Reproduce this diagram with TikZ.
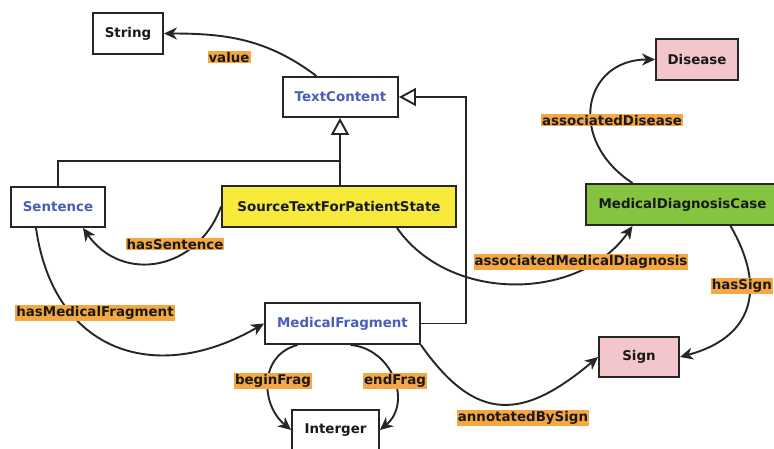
\documentclass[tikz,border=0pt]{standalone}
\usepackage{fontspec}
\setmainfont{DejaVu Sans}
\usetikzlibrary{arrows.meta,calc}
\definecolor{lblorange}{HTML}{F5A742}
\definecolor{srcyellow}{HTML}{F7EA3A}
\definecolor{mdcgreen}{HTML}{84C441}
\definecolor{pinkbox}{HTML}{F3C6CC}
\definecolor{clsblue}{HTML}{4A5DB8}
\definecolor{edgegray}{HTML}{262626}
\tikzset{
  cls/.style={draw=edgegray, line width=1.9pt, fill=white, inner sep=0pt,
    font=\fontsize{13.4}{16}\selectfont\bfseries, text=black!90},
  blue text/.style={text=clsblue},
  lbl/.style={fill=lblorange, inner sep=1pt, font=\fontsize{13.4}{16}\selectfont\bfseries, text=black!90},
  rel/.style={draw=edgegray, line width=1.9pt, -{Stealth[length=13pt,width=12pt,inset=4pt]}},
  inh/.style={draw=edgegray, line width=1.9pt},
  inharrow/.style={draw=edgegray, line width=1.9pt, -{Triangle[open,length=17pt,width=18pt,fill=white]}},
}
\begin{document}
\begin{tikzpicture}[x=1pt,y=1pt]
\useasboundingbox (0,0) rectangle (774,-448);
\clip (0,0) rectangle (774,-448);
\fill[white] (0,0) rectangle (774,-448);

% class nodes
\node[cls, minimum width=70pt, minimum height=41pt] (str) at (128,-33.5) {String};
\node[cls, blue text, minimum width=115pt, minimum height=40pt] (tc) at (340.5,-97) {TextContent};
\node[cls, blue text, minimum width=94pt, minimum height=40pt] (sen) at (58,-207) {Sentence};
\node[cls, fill=srcyellow, minimum width=234pt, minimum height=41pt] (src) at (339,-206.5) {SourceTextForPatientState};
\node[cls, fill=pinkbox, minimum width=82pt, minimum height=41pt] (dis) at (697,-59.5) {Disease};
\node[cls, fill=mdcgreen, minimum width=193pt, minimum height=41pt] (mdc) at (682.5,-204.5) {MedicalDiagnosisCase};
\node[cls, blue text, minimum width=155pt, minimum height=41pt] (mf) at (342.5,-323.5) {MedicalFragment};
\node[cls, fill=pinkbox, minimum width=80pt, minimum height=40pt] (sign) at (639,-357) {Sign};
\node[cls, minimum width=87pt, minimum height=40pt] (int) at (335.5,-430) {Interger};

% inheritance
\coordinate (j) at (340,-161);
\draw[inh] (sen.north) |- (j);
\draw[inh] (src.north -| j) -- (j);
\draw[inharrow] (j) -- (tc.south -| j);
\draw[inharrow] (mf.east) -- ++(45,0) |- (tc.east);

% relations
\draw[rel] ($(tc.north)+(-24,0)$) to[out=143,in=0] (str.east);
\draw[rel] (src.west) to[out=-110,in=-55,looseness=1.25] ($(sen.south)+(25,0)$);
\draw[rel] ($(sen.south)+(-22,0)$) to[out=-82,in=-150,looseness=1.3] (mf.west);
\draw[rel] ($(src.south)+(58,0)$) to[out=-55,in=-125] ($(mdc.south)+(-50,0)$);
\draw[rel] ($(mdc.north)+(-50,0)$) .. controls +(-67,44) and +(-71,0) .. (dis.west);
\draw[rel] ($(mdc.south)+(48,0)$) to[out=-60,in=15,looseness=1.35] (sign.east);
\draw[rel] (mf.south east) to[out=-55,in=-140,looseness=1.4] (sign.west);
\draw[rel] ($(mf.south)+(-45,0)$) to[out=195,in=140,looseness=1.2] (int.west);
\draw[rel] ($(mf.south)+(8,0)$) to[out=-5,in=40,looseness=1.2] (int.east);

% labels
\node[lbl] (lvalue) at (229,-57) {value};
\node[lbl] (ldis) at (612,-120) {associatedDisease};
\node[lbl] (lsen) at (175,-244) {hasSentence};
\node[lbl] (lamd) at (581,-262) {associatedMedicalDiagnosis};
\node[lbl, anchor=east] (lsign) at (773,-286) {hasSign};
\node[lbl] (lmf) at (95,-313) {hasMedicalFragment};
\node[lbl] (lbeg) at (273,-381) {beginFrag};
\node[lbl] (lend) at (395,-381) {endFrag};
\node[lbl] (lann) at (523,-418) {annotatedBySign};
\end{tikzpicture}
\end{document}
